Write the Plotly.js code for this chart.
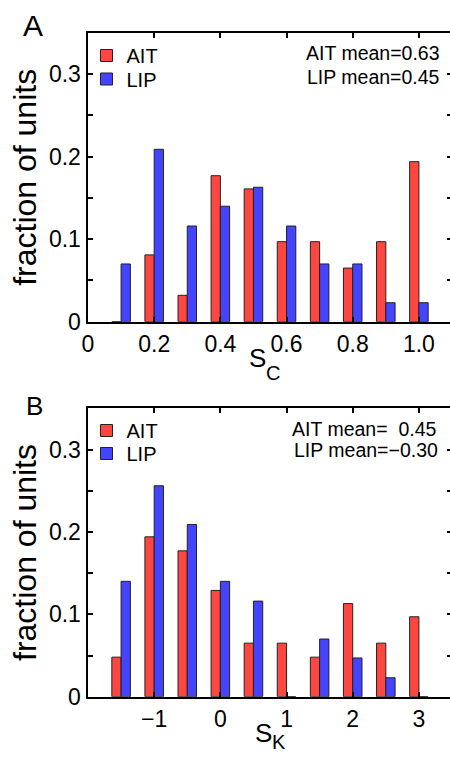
<!DOCTYPE html>
<html>
<head>
<meta charset="utf-8">
<script src="https://cdn.plot.ly/plotly-3.0.1.min.js"></script>
<style>
html,body{margin:0;padding:0;overflow:hidden;background:#fff;}
#chart{width:454px;height:757px;}
</style>
</head>
<body>
<div id="chart"></div>
<script>
// Panel A: S_C histogram
var scBins = [0.1, 0.2, 0.3, 0.4, 0.5, 0.6, 0.7, 0.8, 0.9, 1.0];
var scAIT  = [0, 0.081, 0.032, 0.177, 0.161, 0.097, 0.097, 0.065, 0.097, 0.194];
var scLIP  = [0.070, 0.209, 0.116, 0.140, 0.163, 0.116, 0.070, 0.070, 0.023, 0.023];
var scTickVals = [0, 0.2, 0.4, 0.6, 0.8, 1.0];
var scTickText = ['0', '0.2', '0.4', '0.6', '0.8', '1.0'];

// Panel B: S_K histogram
var skBins = [-1.5, -1, -0.5, 0, 0.5, 1, 1.5, 2, 2.5, 3];
var skAIT  = [0.048, 0.194, 0.177, 0.129, 0.065, 0.065, 0.048, 0.113, 0.065, 0.097];
var skLIP  = [0.140, 0.256, 0.209, 0.140, 0.116, 0, 0.070, 0.047, 0.023, 0];
var skTickVals = [-1, 0, 1, 2, 3];
var skTickText = ['\u22121', '0', '1', '2', '3'];

var yTickVals = [0, 0.1, 0.2, 0.3];
var yTickText = ['0', '0.1', '0.2', '0.3'];

var meanA = ['AIT mean=0.63', 'LIP mean=0.45'];
var meanB = ['AIT mean=\u00a0 0.45', 'LIP mean=\u22120.30'];
var xTitleA = ['S', 'C'];
var xTitleB = ['S', 'K'];

var RED = '#ff4640';
var BLUE = '#4444ff';
var FONT = 'Liberation Sans, Arial, Helvetica, sans-serif';

function barTrace(x, y, name, color, xa, ya, lg) {
  return {
    type: 'bar', x: x, y: y, name: name, xaxis: xa, yaxis: ya,
    legend: lg, showlegend: true,
    marker: {color: color, line: {color: '#222', width: 1}},
    hoverinfo: 'x+y'
  };
}

var data = [
  barTrace(scBins, scAIT, 'AIT', RED, 'x', 'y', 'legend'),
  barTrace(scBins, scLIP, 'LIP', BLUE, 'x', 'y', 'legend2'),
  barTrace(skBins, skAIT, 'AIT', RED, 'x2', 'y2', 'legend3'),
  barTrace(skBins, skLIP, 'LIP', BLUE, 'x2', 'y2', 'legend4')
];

var W = 454, H = 757;
var xDom = [88 / W, 452 / W];

function xAxis(range, tv, tt, anchor) {
  return {
    domain: xDom, range: range, anchor: anchor,
    tickmode: 'array', tickvals: tv, ticktext: tt,
    ticks: 'inside', ticklen: 5, tickwidth: 2, tickcolor: '#000',
    showline: true, linewidth: 2.5, linecolor: '#000', mirror: 'ticks',
    showgrid: false, zeroline: false,
    tickfont: {family: FONT, size: 23, color: '#000'},
    fixedrange: true
  };
}
function yAxis(domain, anchor) {
  return {
    domain: domain, range: [0, 0.35], anchor: anchor,
    tickmode: 'array', tickvals: yTickVals, ticktext: yTickText,
    ticks: 'inside', ticklen: 5, tickwidth: 2, tickcolor: '#000',
    minor: {tickmode: 'linear', tick0: 0, dtick: 0.05, ticks: 'inside', ticklen: 5, tickwidth: 2, tickcolor: '#000', showgrid: false},
    showline: true, linewidth: 2.5, linecolor: '#000', mirror: 'ticks',
    showgrid: false, zeroline: false,
    tickfont: {family: FONT, size: 23, color: '#000'},
    title: {text: 'fraction of units', font: {family: FONT, size: 32, color: '#000'}, standoff: 3},
    fixedrange: true
  };
}

function lg(yTop) {
  return {
    x: 86.5 / W, y: 1 - yTop / H, xanchor: 'left', yanchor: 'top',
    bgcolor: 'rgba(0,0,0,0)', borderwidth: 0,
    font: {family: FONT, size: 20, color: '#000'}
  };
}

function ann(text, xPx, yPx, xanchor, size) {
  return {text: text, xref: 'paper', yref: 'paper', x: xPx / W, y: 1 - yPx / H,
          xanchor: xanchor, yanchor: 'middle', showarrow: false,
          font: {family: FONT, size: size, color: '#000'}};
}

var layout = {
  width: W, height: H,
  margin: {l: 0, r: 0, t: 0, b: 0, autoexpand: false},
  paper_bgcolor: '#fff', plot_bgcolor: '#fff',
  barmode: 'group', bargap: 0.44, bargroupgap: 0,
  xaxis: xAxis([0, 1.1], scTickVals, scTickText, 'y'),
  yaxis: yAxis([1 - 321.7 / H, 1 - 33 / H], 'x'),
  xaxis2: xAxis([-2, 3.5], skTickVals, skTickText, 'y2'),
  yaxis2: yAxis([1 - 696.7 / H, 1 - 408.3 / H], 'x2'),
  legend: lg(36),
  legend2: lg(59.5),
  legend3: lg(411),
  legend4: lg(434),
  annotations: [
    ann('A', 33, 26, 'center', 30),
    ann('B', 34, 406, 'center', 26),
    ann(xTitleA[0], 257, 358, 'center', 26),
    ann(xTitleA[1], 272.5, 373, 'center', 20),
    ann(xTitleB[0], 263.5, 733, 'center', 26),
    ann(xTitleB[1], 278.5, 742, 'center', 20),
    ann(meanA[0], 442, 53, 'right', 19.5),
    ann(meanA[1], 442, 77, 'right', 19.5),
    ann(meanB[0], 438.5, 429, 'right', 19.5),
    ann(meanB[1], 439.5, 450, 'right', 19.5)
  ]
};

Plotly.newPlot('chart', data, layout, {displayModeBar: false, staticPlot: true});
</script>
</body>
</html>
